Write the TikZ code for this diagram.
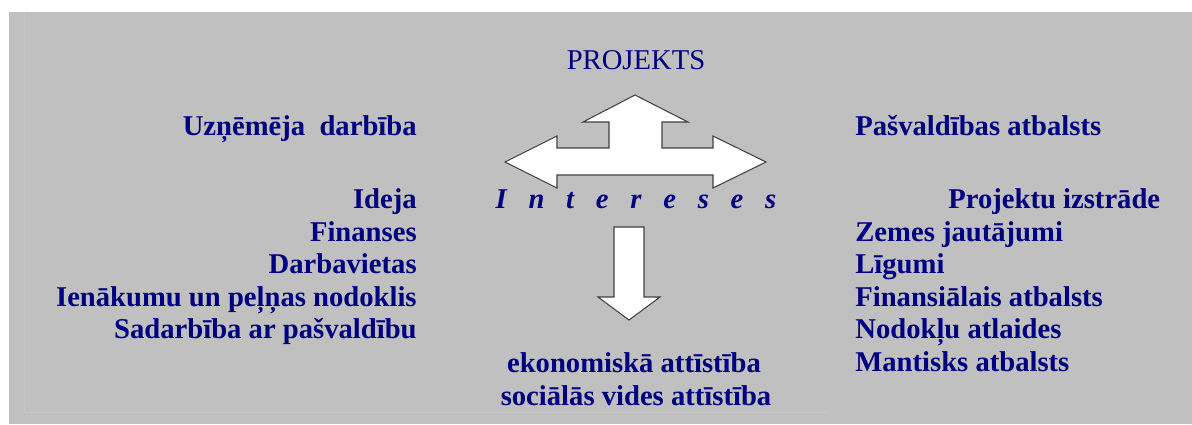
\documentclass[tikz,border=0pt]{standalone}
\usepackage{fontspec}
\setmainfont{Liberation Serif}
\usetikzlibrary{positioning}
\definecolor{navytxt}{RGB}{0,0,128}
\definecolor{bggray}{RGB}{192,192,192}
\definecolor{bgline}{RGB}{199,199,199}

\begin{document}
\begin{tikzpicture}[x=0.02cm, y=-0.02cm,
    lbl/.style={inner sep=0pt, text=navytxt, font=\fontsize{16.3}{19}\selectfont\bfseries},
    arrowshape/.style={fill=white, draw=black!75, line width=0.6pt, line join=miter}]
        \useasboundingbox (0,0) rectangle (1192,424);

        % background
        \fill[bggray] (9,12) rectangle (1192,424);
        \draw[bgline, line width=0.5pt] (24,12) -- (24,412) -- (827,412);

        % top
        \node[lbl, font=\fontsize{16.3}{19}\selectfont, anchor=base] (projekts) at (636,69) {PROJEKTS};

        % three-way arrow
        \draw[arrowshape] (635,95) -- (688,122) -- (662,122) -- (662,148) -- (713,148)
            -- (713,136) -- (766,162) -- (713,188) -- (713,175) -- (557,175) -- (557,188)
            -- (505,162) -- (557,136) -- (557,148) -- (609,148) -- (609,122) -- (583,122) -- cycle;

        \node[lbl, font=\fontsize{16.3}{19}\selectfont\bfseries\itshape, anchor=base] (intereses) at (636,208)
            {\spaceskip=0.76em I n t e r e s e s};

        % down arrow
        \draw[arrowshape] (614,227) -- (644,227) -- (644,297) -- (660,297) -- (629,320)
            -- (598,297) -- (614,297) -- cycle;

        % left side
        \node[lbl, anchor=base east] (uznemejs) at (417,135) {Uzņēmēja\ \ darbība};
        \node[lbl, anchor=base east] (ideja) at (417,208) {Ideja};
        \foreach \txt [count=\i] in {Finanses, Darbavietas, Ienākumu un peļņas nodoklis, Sadarbība ar pašvaldību} {
            \node[lbl, anchor=base east] (kreisi\i) at (417,{208.4+32.6*\i}) {\txt};
        }

        % right side
        \node[lbl, anchor=base west] (pasvaldiba) at (855,135) {Pašvaldības atbalsts};
        \node[lbl, anchor=base west] (izstrade) at (948,208) {Projektu izstrāde};
        \foreach \txt [count=\i] in {Zemes jautājumi, Līgumi, Finansiālais atbalsts, Nodokļu atlaides, Mantisks atbalsts} {
            \node[lbl, anchor=base west] (labi\i) at (855,{208.4+32.6*\i}) {\txt};
        }

        % bottom
        \node[lbl, anchor=base] (ekonomika) at (634,372) {ekonomiskā attīstība};
        \node[lbl, anchor=base] (sociala) at (636,405) {sociālās vides attīstība};

    \end{tikzpicture}
\end{document}
